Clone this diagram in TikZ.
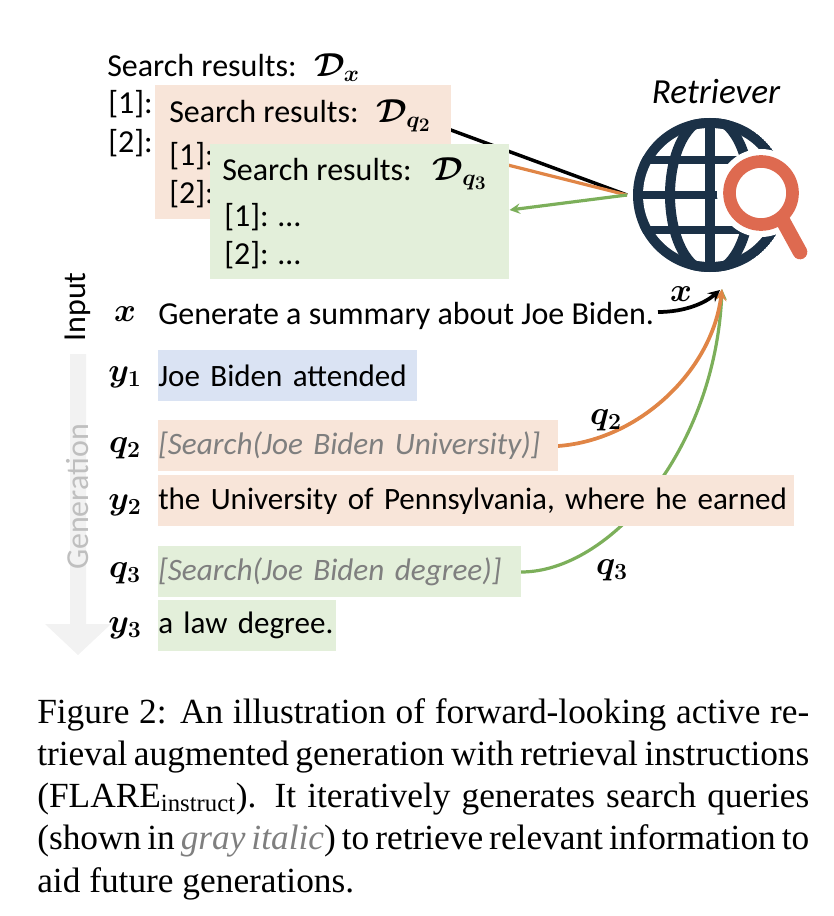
\documentclass[tikz,border=0pt]{standalone}
\usepackage{amsmath,amsfonts,amssymb}
\usepackage[no-math]{fontspec}
\setmainfont{Carlito}
\newfontfamily\capfont{Liberation Serif}
\usepackage{tikz}
\usetikzlibrary{positioning, arrows}

\definecolor{boxorange}{HTML}{F8E5D9}
\definecolor{boxgreen}{HTML}{E3EFDA}
\definecolor{boxblue}{HTML}{DAE3F3}
\definecolor{lineorange}{HTML}{E08546}
\definecolor{linegreen}{HTML}{7CAF5A}
\definecolor{globeblue}{HTML}{1B3147}
\definecolor{lensred}{HTML}{DE6A50}
\definecolor{querygray}{HTML}{7F7F7F}
\definecolor{flowgray}{HTML}{F2F2F2}

\newcommand{\bsym}[1]{$\boldsymbol{#1}$}

\tikzset{
  txt/.style={inner sep=0pt, anchor=base west, font=\fontsize{24}{28}\selectfont},
  sym/.style={inner sep=0pt, font=\fontsize{27}{30}\selectfont},
  rowbox/.style={inner sep=0pt, anchor=north west, minimum height=38.25pt, align=left,
    font=\fontsize{23.3}{28}\selectfont},
  querybox/.style={rowbox, text=querygray, font=\fontsize{23.4}{28}\selectfont\itshape},
  resbox/.style={inner sep=0pt, anchor=north west},
  capline/.style={inner sep=0pt, anchor=base west, font=\capfont\fontsize{26.5}{30}\selectfont},
}

\begin{document}
\begin{tikzpicture}[x=0.75pt, y=-0.75pt, >=stealth]
\useasboundingbox (0,0) rectangle (834,916);

% Define hub points
\coordinate (hub) at (627,195);
\coordinate (retr) at (722,289);
\coordinate (dxin) at (440,126);
\coordinate (dqtwoin) at (480,158);

% Search results, back to front
\node[txt] (dxtitle) at (107,77) {Search results:};
\node[sym] (dxsym) at (337,68) {\bsym{\mathcal{D}_{x}}};
\node[txt] (dxone) at (108,114) {[1]:};
\node[txt] (dxtwo) at (108,153) {[2]:};
\draw[line width=2.6pt] (hub) -- (dxin);
\draw[lineorange, line width=2.4pt] (hub) -- (dqtwoin);

\node[resbox, fill=boxorange, minimum width=222pt, minimum height=100.5pt] (dqtwobox) at (155,85) {};
\node[txt] (dqtwotitle) at (169,123) {Search results:};
\node[sym] (dqtwosym) at (404,116) {\bsym{\mathcal{D}_{q_2}}};
\node[txt] (dqtwoone) at (169,166) {[1]:};
\node[txt] (dqtwotwo) at (169,204) {[2]:};

\node[resbox, fill=boxgreen, minimum width=224.25pt, minimum height=101.25pt] (dqthreebox) at (210,144) {};
\node[txt] (dqthreetitle) at (222,181) {Search results:};
\node[sym] (dqthreesym) at (460,174) {\bsym{\mathcal{D}_{q_3}}};
\node[txt] (dqthreeone) at (224,226) {[1]: \dots};
\node[txt] (dqthreetwo) at (224,264) {[2]: \dots};
\draw[->, linegreen, line width=2.4pt] (hub) -- (dqthreebox.east |- 0,210);

% Retriever icon
\node[sym, font=\fontsize{26.4}{30}\selectfont\itshape] (retriever) at (716,92) {Retriever};
\begin{scope}
\clip (710,195) circle [radius=77*0.75pt];
\fill[globeblue] (710,195) circle [radius=77*0.75pt];
\fill[white] (710,195) circle [radius=67*0.75pt];
\draw[globeblue, line width=8pt] (710,118) -- (710,272);
\draw[globeblue, line width=7.5pt] (710,195) ellipse [x radius=40*0.75pt, y radius=77*0.75pt];
\foreach \ypos in {160,195,230}
  \draw[globeblue, line width=6.5pt] (630,\ypos) -- (790,\ypos);
\end{scope}
\fill[white] (761,193) circle [radius=44*0.75pt];
\draw[white, line width=16pt, line cap=round] (789,223) -- (800,252);
\draw[lensred, line width=9.5pt] (761,193) circle [radius=31.5*0.75pt];
\draw[lensred, line width=11pt, line cap=round] (783,221) -- (800,252);

% Query connectors, the row boxes go over them
\draw[->, linegreen, line width=2.4pt] (521,572) .. controls (610,572) and (715,450) .. (retr);
\draw[->, lineorange, line width=2.8pt] (558,446) .. controls (640,440) and (712,370) .. (retr);
\draw[->, line width=2.8pt] (658,312) .. controls (685,312) and (705,303) .. (720,290);

% Generation arrow
\fill[flowgray] (70,354) -- (86,354) -- (86,624) -- (111,624) -- (78,655) -- (45,624) -- (70,624) -- cycle;
\node[txt, anchor=center, rotate=90, text=black] (input) at (78,307) {Input};
\node[txt, anchor=center, rotate=90, text=black!25] (generation) at (78,497) {Generation};

% Row labels
\foreach \nm/\ypos/\lab in {x/314/{x}, yone/377/{y_1}, qtwo/448/{q_2}, ytwo/505/{y_2}, qthree/573/{q_3}, ythree/628/{y_3}}
  \node[sym] (lab\nm) at (125,\ypos) {\bsym{\lab}};

% Rows
\node[txt] (rowx) at (158,324) {Generate a summary about Joe Biden.};
\node[rowbox, fill=boxblue, minimum width=194.25pt, text width=194.25pt] (rowyone) at (158,350) {\mbox{Joe Biden attended}};
\node[querybox, fill=boxorange, minimum width=300pt, text width=300pt] (rowqtwo) at (158,420) {\mbox{[Search(Joe Biden University)]}};
\node[rowbox, fill=boxorange, minimum width=477pt, text width=477pt] (rowytwo) at (158,475) {\mbox{the University of Pennsylvania, where he earned}};
\node[querybox, fill=boxgreen, minimum width=272.25pt, text width=272.25pt] (rowqthree) at (158,546) {\mbox{[Search(Joe Biden degree)]}};
\node[rowbox, fill=boxgreen, minimum width=133.5pt, text width=133.5pt] (rowythree) at (158,600) {\mbox{a law degree.}};

% Arrow labels
\node[sym] (arrx) at (681,294) {\bsym{x}};
\node[sym] (arrqtwo) at (606,420) {\bsym{q_2}};
\node[sym] (arrqthree) at (612,570) {\bsym{q_3}};

% Caption
\node[capline] (capa) at (37,723) {\makebox[579pt][s]{Figure 2: An illustration of forward-looking active re-}};
\node[capline] (capb) at (37,765) {\makebox[579pt][s]{trieval augmented generation with retrieval instructions}};
\node[capline] (capc) at (37,807) {\makebox[579pt][s]{(FLARE\textsubscript{instruct}). It iteratively generates search queries}};
\node[capline] (capd) at (37,849) {\makebox[579pt][s]{(shown in \textcolor{querygray}{\itshape gray italic}) to retrieve relevant information to}};
\node[capline] (cape) at (37,892) {aid future generations.};

\end{tikzpicture}
\end{document}
